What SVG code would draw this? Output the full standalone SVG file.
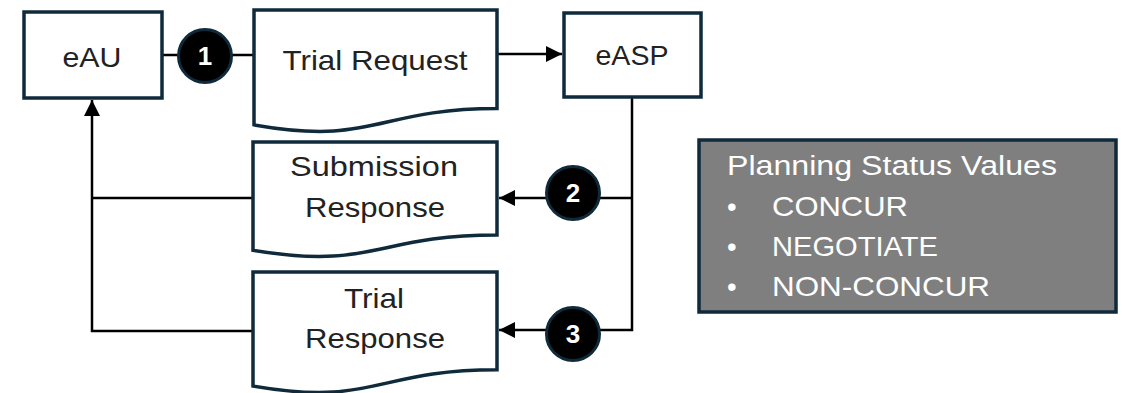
<svg xmlns="http://www.w3.org/2000/svg" width="1122" height="393" viewBox="0 0 1122 393">
<style>
.box{fill:#fff;stroke:#0f2a3b;stroke-width:3.5}
.lbl{font-family:"Liberation Sans",Arial,sans-serif;font-size:28px;fill:#222;text-anchor:middle}
.wire{fill:none;stroke:#000;stroke-width:2.5}
.badge{fill:#000;stroke:#0f2a3b;stroke-width:3}
.num{font-family:"Liberation Sans",Arial,sans-serif;font-size:26px;font-weight:bold;fill:#fff;text-anchor:middle}
.note{font-family:"Liberation Sans",Arial,sans-serif;font-size:27.5px;fill:#fff}
</style>
<defs>
<marker id="arr" viewBox="0 0 10 10" refX="10" refY="5" markerWidth="16" markerHeight="16" markerUnits="userSpaceOnUse" orient="auto">
<path d="M0,0 L10,5 L0,10 z" fill="#000"/>
</marker>
</defs>
<g id="connectors">
<path class="wire" d="M163,55 H254"/>
<path class="wire" d="M497,54 H562" marker-end="url(#arr)"/>
<path class="wire" d="M632,98 V330 H499" marker-end="url(#arr)"/>
<path class="wire" d="M632,198 H499" marker-end="url(#arr)"/>
<path class="wire" d="M253,331 H92 V100" marker-end="url(#arr)"/>
<path class="wire" d="M253,198 H92"/>
</g>
<g id="eAU">
<rect class="box" x="24" y="12" width="138" height="86"/>
<text class="lbl" x="92" y="67" textLength="59" lengthAdjust="spacingAndGlyphs">eAU</text>
</g>
<g id="eASP">
<rect class="box" x="564" y="13" width="137" height="84"/>
<text class="lbl" x="632" y="65" textLength="73" lengthAdjust="spacingAndGlyphs">eASP</text>
</g>
<g id="trial-request">
<path class="box" d="M254,10 H497 V108.6 C375.5,108.6 375.5,146.2 254,124.9 Z"/>
<text class="lbl" x="375" y="70" textLength="185" lengthAdjust="spacingAndGlyphs">Trial Request</text>
</g>
<g id="submission-response">
<path class="box" d="M253,142 H497 V235 C375,235 375,270.5 253,250.3 Z"/>
<text class="lbl" x="374" y="176" textLength="168" lengthAdjust="spacingAndGlyphs">Submission</text>
<text class="lbl" x="375" y="217" textLength="140" lengthAdjust="spacingAndGlyphs">Response</text>
</g>
<g id="trial-response">
<path class="box" d="M253,272 H497 V369.8 C375,369.8 375,407.1 253,386 Z"/>
<text class="lbl" x="374" y="308" textLength="60" lengthAdjust="spacingAndGlyphs">Trial</text>
<text class="lbl" x="375" y="348" textLength="140" lengthAdjust="spacingAndGlyphs">Response</text>
</g>
<g id="badge-1">
<circle class="badge" cx="205" cy="56" r="26.5"/>
<text class="num" x="205" y="65">1</text>
</g>
<g id="badge-2">
<circle class="badge" cx="573" cy="193" r="26.5"/>
<text class="num" x="573" y="202">2</text>
</g>
<g id="badge-3">
<circle class="badge" cx="573" cy="334" r="26.5"/>
<text class="num" x="573" y="343">3</text>
</g>
<g id="planning-status">
<rect x="699" y="140" width="417" height="172" fill="#7f7f7f" stroke="#0f2a3b" stroke-width="3.5"/>
<text class="note" x="727" y="175" textLength="330" lengthAdjust="spacingAndGlyphs">Planning Status Values</text>
<text class="note" x="727" y="216">•</text>
<text class="note" x="772" y="216" textLength="136" lengthAdjust="spacingAndGlyphs">CONCUR</text>
<text class="note" x="727" y="256">•</text>
<text class="note" x="772" y="256" textLength="166" lengthAdjust="spacingAndGlyphs">NEGOTIATE</text>
<text class="note" x="727" y="296">•</text>
<text class="note" x="772" y="296" textLength="218" lengthAdjust="spacingAndGlyphs">NON-CONCUR</text>
</g>
</svg>
